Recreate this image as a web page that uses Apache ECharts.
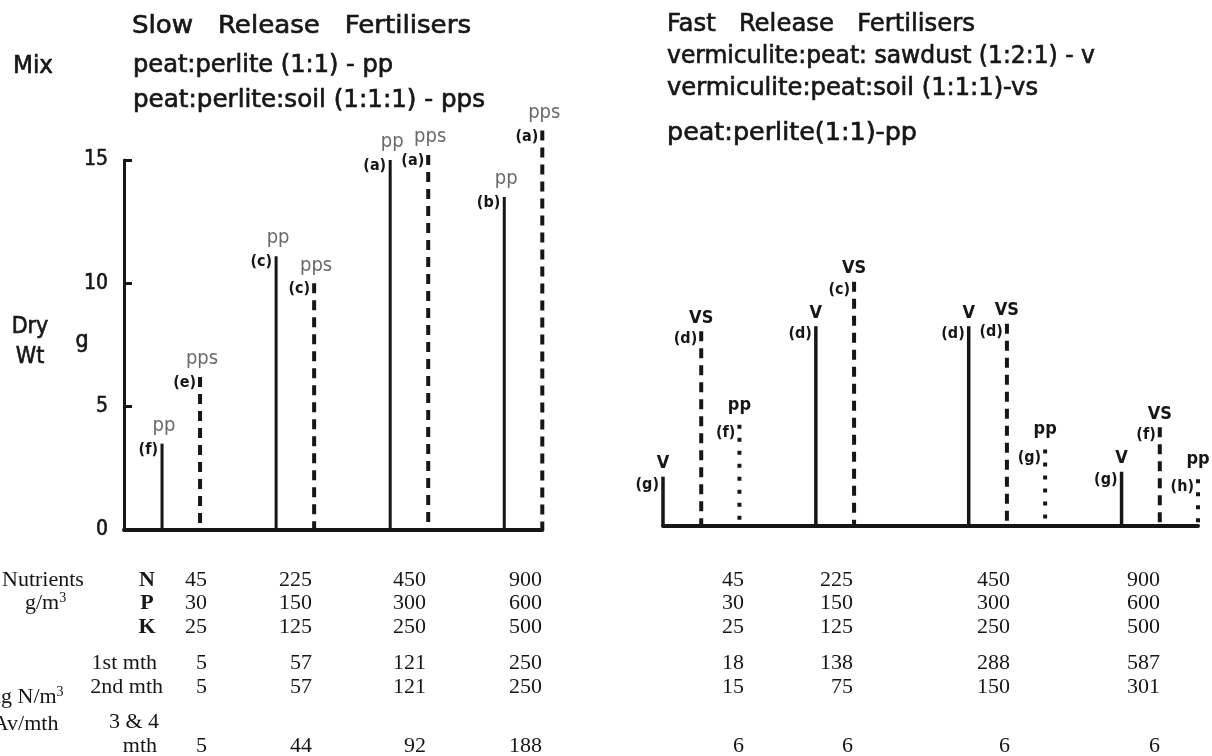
<!DOCTYPE html>
<html>
<head>
<meta charset="utf-8">
<script src="https://cdn.jsdelivr.net/npm/echarts@6/dist/echarts.min.js"></script>
<style>
  html, body { margin: 0; padding: 0; background: #ffffff; }
  #chart { width: 1212px; height: 756px; }
</style>
</head>
<body>
<div id="chart"></div>
<script>
// ---- Dry weight (g) per nutrient level, slow release fertilisers ----
const slowPP = [3.5, 11.1, 15.0, 13.5];          // peat:perlite
const slowPPS = [6.2, 10.0, 15.2, 16.2];         // peat:perlite:soil
const slowPPLetters = ['(f)', '(c)', '(a)', '(b)'];
const slowPPSLetters = ['(e)', '(c)', '(a)', '(a)'];

// ---- Dry weight (g) per nutrient level, fast release fertilisers ----
const fastV = [2.0, 8.1, 8.1, 2.2];              // vermiculite:peat:sawdust
const fastVS = [7.9, 9.9, 8.2, 4.0];             // vermiculite:peat:soil
const fastPP = [4.1, null, 3.1, 1.9];            // peat:perlite
const fastVLetters = ['(g)', '(d)', '(d)', '(g)'];
const fastVSLetters = ['(d)', '(c)', '(d)', '(f)'];
const fastPPLetters = ['(f)', null, '(g)', '(h)'];

const yTicks = [0, 5, 10, 15];

// ---- Nutrient table ----
const nutrientN = [45, 225, 450, 900];
const nutrientP = [30, 150, 300, 600];
const nutrientK = [25, 125, 250, 500];
const slowMonth1 = [5, 57, 121, 250];
const slowMonth2 = [5, 57, 121, 250];
const slowMonth34 = [5, 44, 92, 188];
const fastMonth1 = [18, 138, 288, 587];
const fastMonth2 = [15, 75, 150, 301];
const fastMonth34 = [6, 6, 6, 6];

const NARROW = "'Liberation Sans Narrow', 'DejaVu Sans Condensed', 'Arial Narrow', sans-serif";
const SERIF = "'Liberation Serif', 'Times New Roman', serif";
const INK = '#161616';

// text measuring, used to stretch headings to their set widths
const measureCtx = document.createElement('canvas').getContext('2d');
function textWidth(text, font) {
  measureCtx.font = font;
  return measureCtx.measureText(text).width;
}

const chart = echarts.init(document.getElementById('chart'), null, { renderer: 'canvas' });

// one stem per item: value drawn from the axis scale, with its letter and mix code
function stemSeries(name, gridIdx, values, letters, slotOf, tag, look) {
  const data = [];
  values.forEach((v, g) => {
    if (v == null) return;
    data.push({ value: [slotOf(g), v], letter: letters[g] });
  });
  return {
    type: 'custom',
    name: name,
    xAxisIndex: gridIdx,
    yAxisIndex: gridIdx,
    clip: false,
    silent: true,
    data: data,
    renderItem: function (params, api) {
      const item = data[params.dataIndex];
      const top = api.coord([api.value(0), api.value(1)]);
      const base = api.coord([api.value(0), 0]);
      return {
        type: 'group',
        children: [
          {
            type: 'line',
            shape: { x1: top[0], y1: top[1], x2: base[0], y2: base[1] },
            style: { stroke: INK, lineWidth: look.width, lineDash: look.dash || null, lineCap: 'butt' }
          },
          {
            type: 'text',
            style: {
              text: item.letter, x: top[0] - 4, y: top[1] + look.letterDy,
              align: 'right', verticalAlign: 'middle',
              font: 'bold 16px ' + NARROW, fill: INK
            }
          },
          {
            type: 'text',
            style: {
              text: tag, x: top[0] + look.tagDx, y: top[1] + look.tagDy,
              align: 'center', verticalAlign: 'middle',
              font: look.tagFont, fill: look.tagColor
            }
          }
        ]
      };
    }
  };
}

const slowSlot = (off) => (g) => 1 + 3 * g + off;
const fastSlot = (off) => (g) => 4 * g + off;

const grayTag = { tagFont: '20px ' + NARROW, tagColor: '#6a6a6a', tagDx: 2, tagDy: -18, letterDy: 6 };
const blackTag = { tagFont: 'bold 18px ' + NARROW, tagColor: INK, tagDx: 0, tagDy: -13, letterDy: 8 };

const series = [
  stemSeries('pp', 0, slowPP, slowPPLetters, slowSlot(0), 'pp', Object.assign({ width: 3 }, grayTag)),
  stemSeries('pps', 0, slowPPS, slowPPSLetters, slowSlot(1), 'pps', Object.assign({ width: 4, dash: [10, 7] }, grayTag)),
  stemSeries('v', 1, fastV, fastVLetters, fastSlot(0), 'V', Object.assign({ width: 3.5 }, blackTag)),
  stemSeries('vs', 1, fastVS, fastVSLetters, fastSlot(1), 'VS', Object.assign({ width: 4, dash: [10, 7] }, blackTag)),
  stemSeries('pp fast', 1, fastPP, fastPPLetters, fastSlot(2), 'pp', Object.assign({ width: 4, dash: [4, 9] }, blackTag, { tagDy: -20 }))
];

// ---- text blocks ----
const graphics = [];
function txt(text, x, y, font, align, heavy) {
  const style = { text: String(text), x: x, y: y, font: font, fill: INK, align: align || 'left', verticalAlign: 'middle' };
  if (heavy) { style.stroke = INK; style.lineWidth = 0.6; }
  graphics.push({ type: 'text', silent: true, style: style });
}
// left-aligned heading stretched horizontally to span a given width
function heading(text, x, y, font, width) {
  const s = width / textWidth(text, font);
  graphics.push({
    type: 'text', silent: true, x: x, y: y, scaleX: s,
    style: {
      text: text, x: 0, y: 0, font: font, fill: INK, stroke: INK, lineWidth: 0.6,
      align: 'left', verticalAlign: 'middle'
    }
  });
}

const titleFont = '25px ' + NARROW;
const subFont = '24px ' + NARROW;
heading('Mix', 13, 67, subFont, 40);
heading('Slow   Release   Fertilisers', 132, 26, titleFont, 339);
heading('peat:perlite (1:1) - pp', 133, 66, subFont, 260);
heading('peat:perlite:soil (1:1:1) - pps', 133, 101, subFont, 352);
heading('Fast   Release   Fertilisers', 667, 24, titleFont, 308);
heading('vermiculite:peat: sawdust (1:2:1) - v', 667, 57, subFont, 428);
heading('vermiculite:peat:soil (1:1:1)-vs', 667, 89, subFont, 371);
heading('peat:perlite(1:1)-pp', 667, 134, subFont, 250);

const axisNameFont = '23px ' + NARROW;
txt('Dry', 30, 327, axisNameFont, 'center', true);
txt('Wt', 30, 357, axisNameFont, 'center', true);
txt('g', 82, 341, axisNameFont, 'center', true);

// nutrient table
const tabFont = '22px ' + SERIF;
const supFont = '14px ' + SERIF;
const rowY = { N: 580, P: 603, K: 627, m1: 663, m2: 687, m34a: 722, m34b: 746 };
const slowCols = [207, 312, 426, 542];
const fastCols = [744, 853, 1010, 1160];

txt('Nutrients', 2, rowY.N, tabFont);
const supRich = { t: { font: tabFont, fill: INK }, s: { font: supFont, fill: INK, verticalAlign: 'top', padding: [0, 0, 10, 0] } };
graphics.push({
  type: 'text', silent: true,
  style: { text: '{t|g/m}{s|3}', x: 25, y: rowY.P, verticalAlign: 'middle', fill: INK, rich: supRich }
});
txt('N', 147, rowY.N, 'bold ' + tabFont, 'center');
txt('P', 147, rowY.P, 'bold ' + tabFont, 'center');
txt('K', 147, rowY.K, 'bold ' + tabFont, 'center');
txt('1st mth', 157, rowY.m1, tabFont, 'right');
txt('2nd mth', 163, rowY.m2, tabFont, 'right');
txt('3 & 4', 109, rowY.m34a, tabFont, 'left');
txt('mth', 157, rowY.m34b, tabFont, 'right');
// labels running off the left edge of the page
graphics.push({
  type: 'text', silent: true,
  style: {
    text: '{t|mg N/m}{s|3}', x: -textWidth('m', tabFont) + 1, y: rowY.m2 + 10,
    align: 'left', verticalAlign: 'middle', fill: INK, rich: supRich
  }
});
txt('Av/mth', -textWidth('A', tabFont) * 0.45, rowY.m34a + 2, tabFont, 'left');

function tableRow(values, cols, y) {
  values.forEach((v, i) => txt(v, cols[i], y, tabFont, 'right'));
}
[[nutrientN, rowY.N], [nutrientP, rowY.P], [nutrientK, rowY.K]].forEach(([vals, y]) => {
  tableRow(vals, slowCols, y);
  tableRow(vals, fastCols, y);
});
tableRow(slowMonth1, slowCols, rowY.m1);
tableRow(slowMonth2, slowCols, rowY.m2);
tableRow(slowMonth34, slowCols, rowY.m34b);
tableRow(fastMonth1, fastCols, rowY.m1);
tableRow(fastMonth2, fastCols, rowY.m2);
tableRow(fastMonth34, fastCols, rowY.m34b);

const option = {
  backgroundColor: '#ffffff',
  animation: false,
  grid: [
    { left: 124, top: 160, width: 418.3, height: 370 },
    { left: 663, top: 156, width: 535, height: 370 }
  ],
  xAxis: [
    {
      gridIndex: 0, type: 'value', min: 0, max: 11,
      axisLine: { show: true, lineStyle: { color: INK, width: 4 } },
      axisTick: { show: false }, axisLabel: { show: false }, splitLine: { show: false }
    },
    {
      gridIndex: 1, type: 'value', min: 0, max: 14,
      axisLine: { show: true, lineStyle: { color: INK, width: 4 } },
      axisTick: { show: false }, axisLabel: { show: false }, splitLine: { show: false }
    }
  ],
  yAxis: [
    {
      gridIndex: 0, type: 'value', min: yTicks[0], max: yTicks[yTicks.length - 1], interval: 5,
      axisLine: { show: true, lineStyle: { color: INK, width: 3 } },
      axisTick: { show: true, inside: true, length: 8, lineStyle: { color: INK, width: 3 } },
      axisLabel: {
        show: true, margin: 16, color: INK, fontSize: 21, fontFamily: NARROW,
        textBorderColor: INK, textBorderWidth: 0.6
      },
      splitLine: { show: false }
    },
    {
      gridIndex: 1, type: 'value', min: 0, max: 15, show: false,
      splitLine: { show: false }
    }
  ],
  series: series,
  graphic: { elements: graphics }
};

chart.setOption(option);
</script>
</body>
</html>
